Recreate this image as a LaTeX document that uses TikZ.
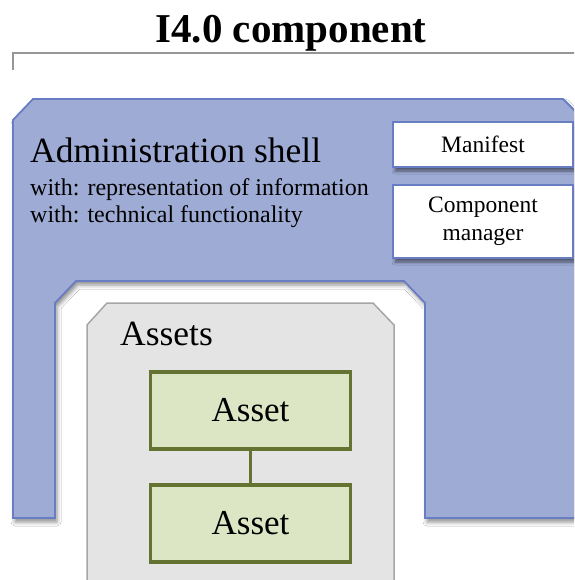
\documentclass[tikz,border=0pt]{standalone}
\usepackage{fontspec}
\setmainfont{Liberation Serif}
\usetikzlibrary{shadows.blur}
\definecolor{shellfill}{RGB}{158,171,213}
\definecolor{shelldraw}{RGB}{105,125,195}
\definecolor{assetfill}{RGB}{221,230,196}
\definecolor{assetdraw}{RGB}{100,115,50}
\definecolor{grayfill}{RGB}{228,228,228}
\definecolor{graydraw}{RGB}{166,166,166}
\definecolor{bracketgray}{RGB}{150,150,150}
\tikzset{
  shellstyle/.style={fill=shellfill, draw=shelldraw, line width=1.8pt,
    blur shadow={shadow xshift=2pt, shadow yshift=-4pt, shadow blur radius=4pt, shadow opacity=45}},
  infobox/.style={rectangle, fill=white, draw=shelldraw, line width=1.8pt,
    minimum width=180pt, align=center, inner sep=0pt,
    font=\fontsize{23.5}{28}\selectfont,
    blur shadow={shadow xshift=2pt, shadow yshift=-4pt, shadow blur radius=3pt, shadow opacity=50}},
  assetbox/.style={rectangle, fill=assetfill, draw=assetdraw, line width=3.5pt,
    minimum width=200pt, minimum height=77pt, inner sep=0pt,
    font=\fontsize{35}{40}\selectfont},
  assetlink/.style={draw=assetdraw, line width=3.5pt},
  groupbox/.style={fill=grayfill, draw=graydraw, line width=1.5pt},
  bigtext/.style={anchor=base west, inner sep=0pt, font=\fontsize{35.5}{40}\selectfont},
  smalltext/.style={anchor=base west, inner sep=0pt, font=\fontsize{24}{28}\selectfont},
}
\begin{document}
\begin{tikzpicture}[x=1pt, y=-1pt]
\clip (0,0) rectangle (574,580);
\fill[white] (0,0) rectangle (574,580);
% title
\node[anchor=base, inner sep=0pt, font=\bfseries\fontsize{41}{49}\selectfont] (title) at (291,43) {I4.0 component};
% bracket
\draw[bracketgray, line width=2pt] (12.5,70) -- (12.5,53) -- (580,53);
% shell
\path[shellstyle] (13,120) -- (33,99) -- (563,99) -- (584,120) -- (584,518) -- (425,518)
  -- (425,303) -- (404,281) -- (76,281) -- (55,303) -- (55,518) -- (13,518) -- cycle;
\node[bigtext] (shell) at (30,163) {Administration shell};
\node[smalltext] (with1) at (30,195) {with: representation of information};
\node[smalltext] (with2) at (30,222) {with: technical functionality};
\node[infobox, minimum height=45pt] (manifest) at (483,144.5) {Manifest};
\node[infobox, minimum height=73pt] (manager) at (483,221.5) {Component\\manager};
% assets group
\path[groupbox] (87,325) -- (107,303) -- (373,303) -- (394,325) -- (394,600) -- (87,600) -- cycle;
\node[bigtext] (assets) at (120,345) {Assets};
\node[assetbox] (a1) at (250.5,410.5) {Asset};
\node[assetbox] (a2) at (250.5,523.5) {Asset};
\draw[assetlink] (a1) -- (a2);
\end{tikzpicture}
\end{document}
